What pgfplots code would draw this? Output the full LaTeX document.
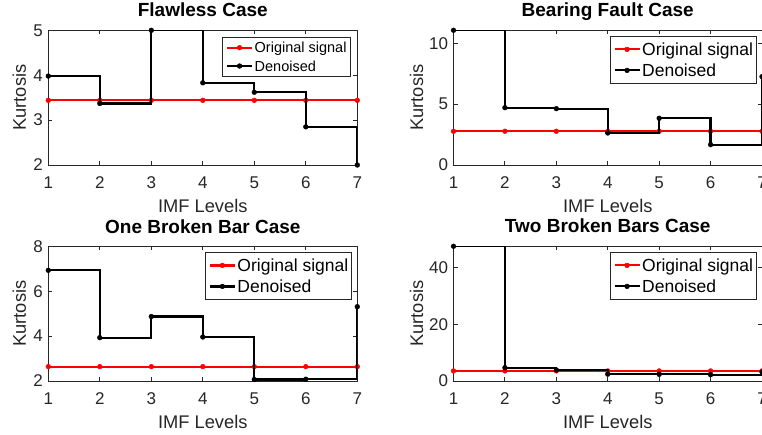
\documentclass[border=0pt]{standalone}
\usepackage{fontspec}
\setmainfont{Liberation Sans}
\usepackage{pgfplots}
\pgfplotsset{compat=1.18}
\usepackage{pgfplotstable}

\definecolor{axgray}{gray}{0.15}

% Kurtosis per IMF level: original signal and denoised signal
\pgfplotstableread{
x orig den
1 3.44 3.98
2 3.44 3.37
3 3.44 5.00
4 3.44 3.83
5 3.44 3.62
6 3.44 2.85
7 3.44 2.00
}\flawless

\pgfplotstableread{
x orig den
1 2.77 11.07
2 2.77 4.71
3 2.77 4.63
4 2.77 2.63
5 2.77 3.84
6 2.77 1.67
7 2.77 7.26
}\bearing

\pgfplotstableread{
x orig den
1 2.64 6.93
2 2.64 3.93
3 2.64 4.87
4 2.64 3.96
5 2.64 2.07
6 2.64 2.08
7 2.64 5.31
}\onebar

\pgfplotstableread{
x orig den
1 3.55 47.5
2 3.55 4.70
3 3.55 3.90
4 3.55 2.40
5 3.55 2.35
6 3.55 2.20
7 3.55 3.20
}\twobars

\pgfplotsset{
  kurt/.style={
    scale only axis, width=309pt, height=134.7pt,
    xmin=1, xmax=7, xtick={1,...,7},
    axis line style={axgray, line width=0.9pt},
    tick style={axgray, line width=0.9pt},
    major tick length=4pt,
    tick align=inside,
    /pgf/number format/assume math mode=true,
    ticklabel style={font=\fontsize{17}{19}\selectfont, text=axgray},
    xticklabel style={anchor=north, inner sep=0pt, yshift=-11.5pt},
    yticklabel style={anchor=east, inner sep=0pt, xshift=-5.3pt},
    xlabel={IMF Levels}, ylabel={Kurtosis},
    label style={font=\fontsize{18.3}{20}\selectfont, text=axgray},
    xlabel style={at={(axis description cs:0.5,0)}, anchor=base, yshift=-47.5pt, inner sep=0pt},
    title style={font=\bfseries\fontsize{19}{21}\selectfont, at={(axis description cs:0.5,1)}, anchor=base, yshift=7.3pt, inner sep=0pt},
    clip mode=individual,
    legend cell align=left,
    legend image code/.code={\draw[#1, mark repeat=2, mark phase=2] plot coordinates {(0pt,0pt) (12.5pt,0pt) (25pt,0pt)};},
    legend style={at={(1,1)}, anchor=north east, draw=axgray, line width=0.9pt, fill=white,
      column sep=1.5pt},
  },
  biglegend/.style={legend style={font=\fontsize{17.5}{19}\selectfont, xshift=-5.5pt, yshift=-5.8pt,
      inner xsep=3pt, inner ysep=3.4pt, row sep=2.1pt,
      nodes={inner sep=0pt, text height=15.75pt, text depth=3.15pt}}},
  smalllegend/.style={legend style={font=\fontsize{14.5}{16}\selectfont, xshift=-6.6pt, yshift=-6.4pt,
      inner xsep=3.7pt, inner ysep=2.7pt, row sep=2.7pt,
      nodes={inner sep=0pt, text height=13.05pt, text depth=2.6pt}}},
  orig/.style={red, line width=2.2pt, mark=*, mark size=2.4pt, mark options={line width=0.4pt}, const plot},
  den/.style={black, line width=2.2pt, mark=*, mark size=2.4pt, mark options={line width=0.4pt}, const plot},
}

\begin{document}
\begin{tikzpicture}
% top left
\begin{axis}[kurt, smalllegend, at={(48.3pt,270pt)}, anchor=south west,
  title={Flawless Case}, ymin=2, ymax=5, ytick={2,3,4,5},
  ylabel style={at={([xshift=-29pt]axis description cs:0,0.5)}, anchor=center, inner sep=0pt}]
  \addplot[orig] table[x=x, y=orig] {\flawless};
  \addplot[den] table[x=x, y=den] {\flawless};
  \legend{Original signal, Denoised}
\end{axis}
% top right
\begin{axis}[kurt, biglegend, at={(453.5pt,270pt)}, anchor=south west, width=308.5pt,
  title={Bearing Fault Case}, ymin=0, ymax=11.07, ytick={0,5,10},
  ylabel style={at={([xshift=-36.8pt]axis description cs:0,0.5)}, anchor=center, inner sep=0pt}]
  \addplot[orig] table[x=x, y=orig] {\bearing};
  \addplot[den] table[x=x, y=den] {\bearing};
  \legend{Original signal, Denoised}
\end{axis}
% bottom left
\begin{axis}[kurt, biglegend, at={(48.3pt,54pt)}, anchor=south west,
  title={One Broken Bar Case}, ymin=2, ymax=8, ytick={2,4,6,8},
  ylabel style={at={([xshift=-29pt]axis description cs:0,0.5)}, anchor=center, inner sep=0pt}]
  \addplot[orig] table[x=x, y=orig] {\onebar};
  \addplot[den] table[x=x, y=den] {\onebar};
  \legend{Original signal, Denoised}
\end{axis}
% bottom right
\begin{axis}[kurt, biglegend, at={(453.5pt,54pt)}, anchor=south west, width=308.5pt,
  title={Two Broken Bars Case}, ymin=0, ymax=47.5, ytick={0,20,40},
  ylabel style={at={([xshift=-36.8pt]axis description cs:0,0.5)}, anchor=center, inner sep=0pt}]
  \addplot[orig] table[x=x, y=orig] {\twobars};
  \addplot[den] table[x=x, y=den] {\twobars};
  \legend{Original signal, Denoised}
\end{axis}
\pgfresetboundingbox
\path[use as bounding box] (0,0) rectangle (762pt,435pt);
\end{tikzpicture}
\end{document}
